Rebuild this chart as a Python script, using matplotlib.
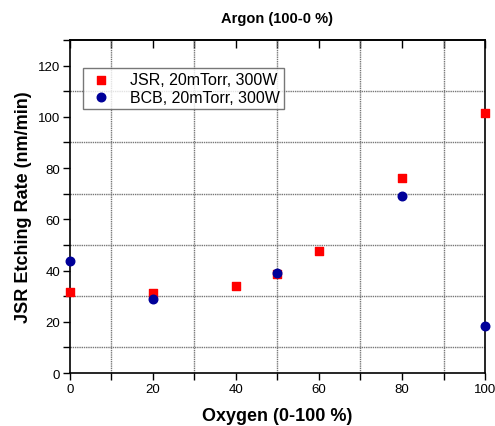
import matplotlib
matplotlib.use("Agg")
import matplotlib.pyplot as plt
from matplotlib.ticker import MultipleLocator

plt.rcParams['font.family'] = ['Liberation Sans', 'DejaVu Sans']

jsr_x = [0, 20, 40, 50, 60, 80, 100]
jsr_y = [31.6, 31.2, 34.0, 38.5, 47.5, 76.2, 101.6]
bcb_x = [0, 20, 50, 80, 100]
bcb_y = [43.7, 28.9, 39.0, 69.0, 18.4]

fig = plt.figure(figsize=(4.95, 4.27), dpi=100)
ax = fig.add_axes([0.1414, 0.1241, 0.8384, 0.7799])

# dotted grid at the odd tens
for v in [10, 30, 50, 70, 90, 110]:
    ax.axhline(v, color='#777777', lw=1.0, ls=(0, (1, 0.6)), zorder=1)
for v in [10, 30, 50, 70, 90]:
    ax.axvline(v, color='#777777', lw=1.0, ls=(0, (1, 0.6)), zorder=1)

ax.scatter(jsr_x, jsr_y, marker='s', s=30, color='#ff0000', label='JSR, 20mTorr, 300W', zorder=3, clip_on=False)
ax.scatter(bcb_x, bcb_y, marker='o', s=38, color='#000099', label='BCB, 20mTorr, 300W', zorder=3, clip_on=False)

ax.set_xlim(0, 100)
ax.set_ylim(0, 130)
ax.xaxis.set_major_locator(MultipleLocator(20))
ax.xaxis.set_minor_locator(MultipleLocator(10))
ax.yaxis.set_major_locator(MultipleLocator(20))
ax.yaxis.set_minor_locator(MultipleLocator(10))
ax.tick_params(which='both', direction='out', length=5, width=1, labelsize=9.5, pad=2)
for s in ax.spines.values():
    s.set_linewidth(1.2)

# inward ticks along the top
top = ax.secondary_xaxis('top')
top.xaxis.set_major_locator(MultipleLocator(10))
top.tick_params(direction='in', length=6, width=1, labeltop=False)
top.spines['top'].set_linewidth(1.2)

ax.set_xlabel('Oxygen (0-100 %)', fontsize=13, fontweight='bold', labelpad=9)
ax.set_ylabel('JSR Etching Rate (nm/min)', fontsize=13, fontweight='bold', labelpad=4)
ax.set_title('Argon (100-0 %)', fontsize=10.5, fontweight='bold', pad=13)

leg = ax.legend(loc='upper left', bbox_to_anchor=(0.031, 0.915), fontsize=11.5,
                frameon=True, fancybox=False, edgecolor='#555555',
                handletextpad=0.9, borderpad=0.25, labelspacing=0.15, scatterpoints=1,
                handlelength=1.8, borderaxespad=0)
leg.get_frame().set_linewidth(1.0)

fig.savefig('out.png', dpi=100)
